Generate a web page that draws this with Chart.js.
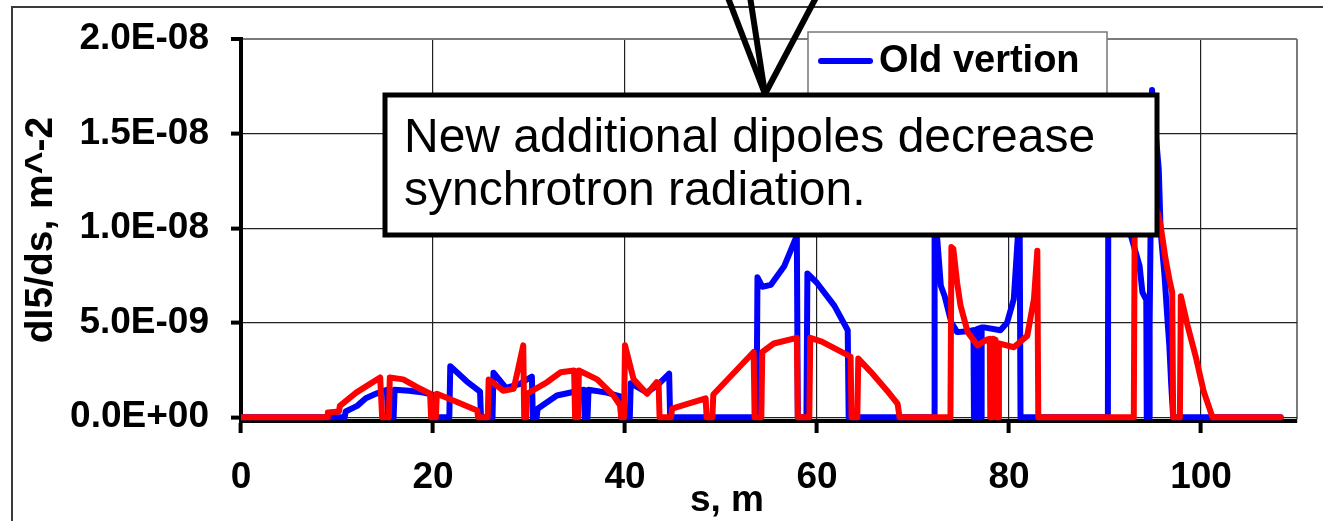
<!DOCTYPE html>
<html>
<head>
<meta charset="utf-8">
<script src="https://cdn.jsdelivr.net/npm/chart.js@4.4.1/dist/chart.umd.min.js"></script>
<style>
html,body{margin:0;padding:0;background:#fff;overflow:hidden}
#wrap{position:relative;width:1323px;height:521px}
canvas{display:block}
</style>
</head>
<body>
<div id="wrap"><canvas id="c" width="1323" height="521"></canvas></div>
<script>
// ---------- DATA ----------
const seriesNames = ['Old vertion', 'New vertion'];

// Old version (blue): s [m] and dI5/ds [m^-2]
const oldS = [0, 10.8, 10.9, 12.1, 13.0, 14.1, 15.2, 15.3, 15.9, 16.0, 17.5, 19.0, 19.9, 20.0,
  21.7, 21.8, 23.5, 24.9, 25.0, 26.2, 26.3, 27.6, 29.0, 30.3, 30.4, 30.8, 30.9, 32.9, 35.7, 35.8,
  36.1, 36.2, 38.1, 39.5, 39.6, 40.5, 40.6, 42.3, 43.5, 44.6, 44.7,
  53.7, 53.8, 54.3, 55.2, 56.6, 57.9, 58.0, 58.9, 59.0, 60.0, 61.8, 63.2, 63.3,
  72.2, 72.25, 72.5, 72.9, 73.3, 74.0, 74.6, 75.7, 76.3, 76.35, 76.6, 76.65, 76.85, 76.9, 77.1, 77.15,
  77.4, 79.1, 79.8, 80.5, 80.9, 81.1, 81.2,
  90.3, 90.35, 91.5, 92.7, 93.6, 93.9, 94.3, 94.35, 94.6, 94.65, 94.9, 95.6, 95.8, 96.2, 96.5, 96.7,
  96.9, 97.1, 108.3];
const oldV = [0, 0, 0.3e-9, 0.6e-9, 1.0e-9, 1.25e-9, 1.45e-9, 0, 0, 1.45e-9, 1.4e-9, 1.3e-9, 1.2e-9, 0,
  0, 2.7e-9, 1.9e-9, 1.35e-9, 0, 0, 2.35e-9, 1.55e-9, 1.75e-9, 2.15e-9, 0, 0, 0.45e-9, 1.15e-9, 1.45e-9, 0,
  0, 1.45e-9, 1.3e-9, 1.1e-9, 0, 0, 1.8e-9, 1.3e-9, 1.75e-9, 2.3e-9, 0,
  0, 7.4e-9, 6.9e-9, 7.0e-9, 8.0e-9, 9.6e-9, 0, 0, 7.6e-9, 7.1e-9, 5.9e-9, 4.6e-9, 0,
  0, 12.5e-9, 9.6e-9, 6.95e-9, 6.4e-9, 5.0e-9, 4.5e-9, 4.55e-9, 4.6e-9, 0, 0, 4.65e-9, 4.7e-9, 0, 0, 4.75e-9,
  4.75e-9, 4.6e-9, 5.0e-9, 6.25e-9, 9.4e-9, 11.5e-9, 0,
  0, 13.5e-9, 12.0e-9, 9.6e-9, 8.0e-9, 6.6e-9, 6.2e-9, 0, 0, 5.0e-9, 17.3e-9, 13.1e-9, 9.8e-9, 7.5e-9, 5.2e-9, 3.8e-9,
  1.7e-9, 0, 0];

// New version (red)
const newS = [0, 9.0, 9.05, 10.2, 10.3, 12.0, 13.4, 14.5, 14.7, 15.4, 15.5, 16.9, 18.3, 19.7, 19.8,
  20.3, 20.4, 22.5, 24.6, 24.7, 25.7, 25.8, 26.7, 27.3, 28.4, 28.8, 29.4, 29.5, 29.7, 29.8, 31.9, 33.3,
  34.7, 34.8, 35.1, 35.2, 37.1, 38.8, 39.5, 39.6, 39.9, 40.0, 40.9, 42.3, 43.3, 43.5, 43.6,
  44.8, 44.9, 48.4, 48.5, 49.1, 49.2, 53.4, 53.5, 54.2, 54.3, 55.5, 57.9, 58.0, 59.2, 59.3, 60.5, 62.0,
  63.5, 63.6, 64.2, 64.3, 65.6, 67.3, 68.4, 68.6,
  73.9, 74.0, 74.2, 74.6, 74.95, 75.7, 76.7, 77.7, 78.0, 78.05, 78.3, 78.35, 78.6, 78.65, 78.9, 78.95,
  80.5, 81.9, 82.6, 82.95, 83.05,
  93.0, 93.1, 94.5, 95.5, 95.8, 96.3, 96.7, 97.0, 97.1, 97.8, 97.9, 98.6, 99.5, 100.3, 101.2, 108.3];
const newV = [0, 0, 0.25e-9, 0.3e-9, 0.6e-9, 1.3e-9, 1.75e-9, 2.1e-9, 0, 0, 2.1e-9, 2.0e-9, 1.6e-9, 1.24e-9, 0,
  0, 1.24e-9, 0.8e-9, 0.36e-9, 0, 0, 2.0e-9, 1.65e-9, 1.4e-9, 1.5e-9, 2.4e-9, 3.8e-9, 0, 0, 1.24e-9, 1.86e-9, 2.38e-9,
  2.47e-9, 0, 0, 2.47e-9, 2.0e-9, 1.15e-9, 0.62e-9, 0, 0, 3.8e-9, 2.0e-9, 1.24e-9, 1.86e-9, 1.8e-9, 0,
  0, 0.45e-9, 1.0e-9, 0, 0, 1.2e-9, 3.45e-9, 0, 0, 3.45e-9, 3.9e-9, 4.2e-9, 0, 0, 4.2e-9, 4.0e-9, 3.6e-9,
  3.2e-9, 0, 0, 3.1e-9, 2.4e-9, 1.4e-9, 0.7e-9, 0,
  0, 9.0e-9, 8.9e-9, 7.1e-9, 5.9e-9, 4.5e-9, 3.8e-9, 4.1e-9, 4.15e-9, 0, 0, 4.15e-9, 4.1e-9, 0, 0, 3.9e-9,
  3.7e-9, 4.3e-9, 6.25e-9, 8.8e-9, 0,
  0, 11.0e-9, 11.5e-9, 10.8e-9, 10.1e-9, 8.4e-9, 7.3e-9, 6.6e-9, 0, 0, 6.4e-9, 4.85e-9, 3.1e-9, 1.33e-9, 0, 0];

// Axes
const xTickValues = [0, 20, 40, 60, 80, 100];
const xTickLabels = ['0', '20', '40', '60', '80', '100'];
const xMin = 0, xMax = 110;
const yTickValues = [0, 5e-9, 1e-8, 1.5e-8, 2e-8];
const yTickLabels = ['0.0E+00', '5.0E-09', '1.0E-08', '1.5E-08', '2.0E-08'];
const yMin = -0.2e-9, yMax = 2e-8;
const xTitle = 's, m';
const yTitle = 'dI5/ds, m^-2';
const calloutLines = ['New additional dipoles decrease', 'synchrotron radiation.'];

// ---------- CHART ----------
const BLUE = '#0000ff', RED = '#ff0000';
const FAMILY = '"Liberation Sans", Arial, sans-serif';
const chartFont = {family: FAMILY, size: 37, weight: 'bold'};

const toPoints = (xs, ys) => xs.map((x, i) => ({x: x, y: ys[i]}));

const decor = {
  id: 'decor',
  afterDraw(chart) {
    const ctx = chart.ctx;
    ctx.save();
    // outer chart frame
    ctx.strokeStyle = '#3a3a3a';
    ctx.lineWidth = 2;
    ctx.strokeRect(12, 7, 1500, 700);

    // x axis title
    ctx.fillStyle = '#000';
    ctx.font = 'bold 37px ' + FAMILY;
    ctx.textAlign = 'center';
    ctx.textBaseline = 'middle';
    ctx.fillText(xTitle, 727, 501);

    // legend box
    ctx.fillStyle = '#fff';
    ctx.fillRect(808, 32, 299, 110);
    ctx.strokeStyle = '#777';
    ctx.lineWidth = 1.5;
    ctx.strokeRect(808, 32, 299, 110);
    const ds = chart.data.datasets;
    const legendY = [61, 110];
    ds.forEach((d, i) => {
      ctx.strokeStyle = d.borderColor;
      ctx.lineWidth = 6;
      ctx.lineCap = 'round';
      ctx.beginPath();
      ctx.moveTo(821, legendY[i]);
      ctx.lineTo(870, legendY[i]);
      ctx.stroke();
      ctx.fillStyle = '#000';
      ctx.textAlign = 'left';
      ctx.textBaseline = 'middle';
      ctx.font = 'bold 38px ' + FAMILY;
      ctx.fillText(d.label, 879, legendY[i] + 1);
    });

    // pointer lines above the callout
    ctx.strokeStyle = '#000';
    ctx.lineWidth = 6;
    ctx.lineCap = 'butt';
    const tip = [765, 94];
    [[725, -10], [749, -10], [820, -10]].forEach(p => {
      ctx.beginPath();
      ctx.moveTo(p[0], p[1]);
      ctx.lineTo(tip[0], tip[1]);
      ctx.stroke();
    });

    // callout box
    ctx.fillStyle = '#fff';
    ctx.fillRect(385, 95, 772, 140);
    ctx.strokeStyle = '#000';
    ctx.lineWidth = 5;
    ctx.strokeRect(385, 95, 772, 140);
    ctx.fillStyle = '#000';
    ctx.textAlign = 'left';
    ctx.textBaseline = 'alphabetic';
    ctx.font = '48px ' + FAMILY;
    ctx.fillText(calloutLines[0], 404, 152);
    ctx.fillText(calloutLines[1], 404, 205);
    ctx.restore();
  }
};

new Chart(document.getElementById('c'), {
  type: 'line',
  data: {
    datasets: [
      {label: seriesNames[0], data: toPoints(oldS, oldV), borderColor: BLUE, backgroundColor: BLUE,
       borderWidth: 6, pointRadius: 0, tension: 0, order: 1, borderJoinStyle: 'round', borderCapStyle: 'round'},
      {label: seriesNames[1], data: toPoints(newS, newV), borderColor: RED, backgroundColor: RED,
       borderWidth: 6, pointRadius: 0, tension: 0, order: 0, borderJoinStyle: 'round', borderCapStyle: 'round'}
    ]
  },
  options: {
    responsive: false,
    animation: false,
    devicePixelRatio: 1,
    parsing: false,
    layout: {padding: {top: 39, right: 26, left: 0, bottom: 0}},
    plugins: {legend: {display: false}, tooltip: {enabled: false}},
    scales: {
      x: {
        type: 'linear', min: xMin, max: xMax,
        afterBuildTicks: s => { s.ticks = xTickValues.concat([xMax]).map(v => ({value: v})); },
        afterFit: s => { s.height = 100; s.paddingLeft = 0; s.paddingRight = 0; },
        ticks: {
          autoSkip: false, maxRotation: 0, padding: 23, color: '#000', font: chartFont,
          callback: (v, i) => (i < xTickLabels.length ? xTickLabels[i] : '')
        },
        grid: {
          color: c => (c.tick && c.tick.value === xMax ? '#7a7a7a' : '#222'),
          lineWidth: c => (c.tick && c.tick.value === xMax ? 2 : 1.2),
          tickColor: c => (c.tick && c.tick.value === xMax ? 'rgba(0,0,0,0)' : '#000'),
          tickLength: 12, tickWidth: 4, drawTicks: true
        },
        border: {display: true, color: '#000', width: 4}
      },
      y: {
        type: 'linear', min: yMin, max: yMax,
        afterBuildTicks: s => { s.ticks = yTickValues.map(v => ({value: v})); },
        afterFit: s => { s.width = 241; s.paddingTop = 0; s.paddingBottom = 0; },
        ticks: {
          padding: 22, color: '#000', font: chartFont,
          callback: (v, i) => yTickLabels[i]
        },
        grid: {
          color: c => (c.tick && c.tick.value === yMax ? '#7a7a7a' : '#222'),
          lineWidth: c => (c.tick && c.tick.value === yMax ? 2 : 1.2),
          tickColor: '#000', tickLength: 10, tickWidth: 4, drawTicks: true
        },
        border: {display: true, color: '#000', width: 4},
        title: {display: true, text: yTitle, color: '#000', font: {family: FAMILY, size: 39, weight: 'bold'}, padding: {top: 18, bottom: 0}}
      }
    }
  },
  plugins: [decor]
});
</script>
</body>
</html>
